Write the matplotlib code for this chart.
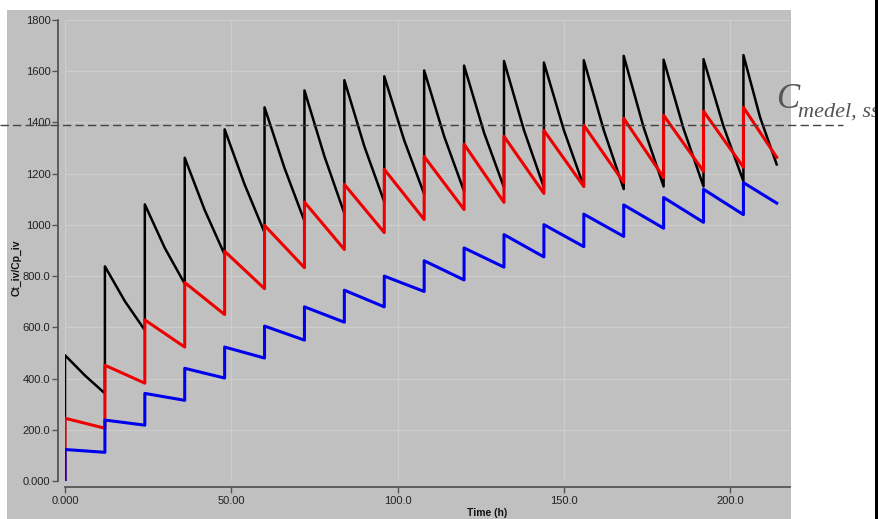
#!/usr/bin/env python3
"""
Repeated iv dosing: concentration vs time (three dosing schemes)
"""
import matplotlib
matplotlib.use("Agg")
import matplotlib.pyplot as plt
from matplotlib.patches import Rectangle

# Dose times (h) and end of simulation
dose_times = [0, 12, 24, 36, 48, 60, 72, 84, 96, 108, 120, 132, 144, 156,
              168, 180, 192, 204]
t_end = 214

# Blue series: value just before and just after each dose
blue_pre = [0, 112, 218, 315, 402, 480, 550, 620, 680, 740, 785, 835, 875,
            915, 955, 987, 1010, 1040]
blue_post = [123, 238, 342, 440, 523, 605, 680, 745, 800, 860, 910, 962,
             1001, 1042, 1078, 1107, 1139, 1165]
blue_end = 1085

# Red series
red_pre = [0, 206, 382, 523, 650, 751, 833, 904, 970, 1021, 1060, 1088,
           1123, 1150, 1166, 1185, 1209, 1225]
red_post = [245, 452, 629, 775, 897, 998, 1089, 1158, 1217, 1267, 1315,
            1346, 1369, 1389, 1416, 1428, 1444, 1459]
red_end = 1264

# Black series (with a mid-interval reading to show the curved decay)
black_pre = [0, 342, 589, 770, 884, 970, 1015, 1045, 1090, 1120, 1131, 1146,
             1146, 1150, 1140, 1150, 1150, 1170]
black_post = [491, 838, 1080, 1262, 1373, 1459, 1525, 1565, 1580, 1603, 1622,
              1640, 1634, 1643, 1660, 1645, 1647, 1663]
black_mid = [412, 702, 910, 1058, 1158, 1222, 1268, 1307, 1330, 1346, 1360,
             1370, 1370, 1370, 1380, 1375, 1385, 1420]
black_mid_dt = 6
black_end = 1236

c_ss = 1390

x_ticks = [0, 50, 100, 150, 200]
x_ticklabels = ["0.000", "50.00", "100.0", "150.0", "200.0"]
y_ticks = [0, 200, 400, 600, 800, 1000, 1200, 1400, 1600, 1800]
y_ticklabels = ["0.000", "200.0", "400.0", "600.0", "800.0", "1000", "1200",
                "1400", "1600", "1800"]

W, H = 879, 519


def build(pre, post, end, mid=None, mid_dt=None):
    t, y = [], []
    for i, d in enumerate(dose_times):
        t += [d, d]
        y += [pre[i], post[i]]
        if mid is not None:
            last = i == len(dose_times) - 1
            t.append(d + (5 if last else mid_dt))
            y.append(mid[i])
    t.append(t_end)
    y.append(end)
    return t, y


def fx(px):
    return px / W


def fy(px):
    return 1 - px / H


def main():
    plt.rcParams['font.family'] = ['Liberation Sans', 'DejaVu Sans']
    fig = plt.figure(figsize=(W / 100, H / 100), dpi=100)
    fig.patch.set_facecolor('white')

    # grey panel and right black border
    fig.patches.append(Rectangle((fx(7), 0), fx(791 - 7), fy(10),
                                 transform=fig.transFigure,
                                 facecolor='#c0c0c0', zorder=-10))

    ax = fig.add_axes([fx(65), fy(481), fx(790 - 65), (481 - 20) / H])
    ax.set_facecolor('none')

    for sp in ['top', 'right']:
        ax.spines[sp].set_visible(False)
    ax.spines['left'].set_position(('outward', 5))
    ax.spines['bottom'].set_position(('outward', 4))
    for sp in ['left', 'bottom']:
        ax.spines[sp].set_color('#555555')
        ax.spines[sp].set_linewidth(1.3)

    ax.grid(True, color='#cdcdcd', linewidth=0.9)
    ax.set_axisbelow(True)

    tb, yb = build(black_pre, black_post, black_end, black_mid, black_mid_dt)
    tr, yr = build(red_pre, red_post, red_end)
    tbl, ybl = build(blue_pre, blue_post, blue_end)
    ax.plot(tb, yb, color='black', lw=1.8, zorder=3,
            solid_joinstyle='round')
    ax.plot(tr, yr, color='#ee0000', lw=2.2, zorder=4)
    ax.plot(tbl, ybl, color='#0000ee', lw=2.2, zorder=5)

    ax.set_xlim(0, 218)
    ax.set_ylim(0, 1800)
    ax.set_xticks(x_ticks)
    ax.set_xticklabels(x_ticklabels)
    ax.set_yticks(y_ticks)
    ax.set_yticklabels(y_ticklabels)
    ax.tick_params(axis='both', labelsize=8, colors='#555555',
                   labelcolor='#222222', width=1)
    ax.tick_params(axis='y', length=4, pad=1.5)
    ax.tick_params(axis='x', length=4, pad=3)

    # steady-state mean concentration line
    ax.axhline(c_ss, xmin=(0 - 65) / 725, xmax=(843 - 65) / 725,
               color='#444444', lw=1, ls=(0, (6, 3)), clip_on=False,
               zorder=6)

    fig.text(fx(17), fy(268), "Ct_iv/Cp_iv", rotation=90, fontsize=7.5,
             fontweight='bold', ha='center', va='center', color='#111111')
    fig.text(fx(487), fy(513), "Time (h)", fontsize=7.5, fontweight='bold',
             ha='center', va='center', color='#111111')

    fig.text(fx(776), fy(108), "C", fontsize=25, family='Liberation Serif',
             style='italic', color='#555555', ha='left', va='baseline')
    fig.text(fx(798), fy(117), "medel, ss", fontsize=16,
             family='Liberation Serif', style='italic', color='#555555',
             ha='left', va='baseline')

    fig.patches.append(Rectangle((fx(875), 0), fx(4), 1,
                                 transform=fig.transFigure,
                                 facecolor='black', zorder=20))

    fig.savefig('out.png', dpi=100)


if __name__ == "__main__":
    main()
